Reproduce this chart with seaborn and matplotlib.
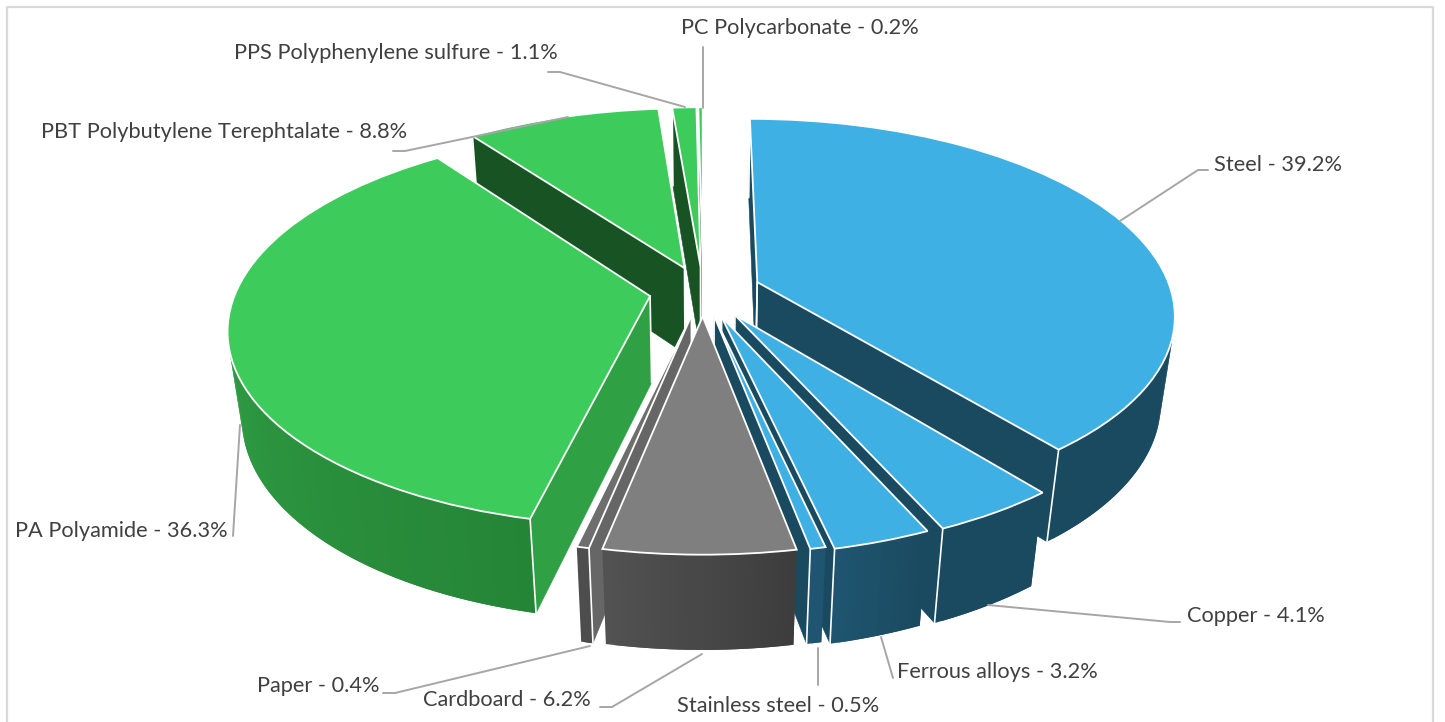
import numpy as np
import matplotlib
matplotlib.use('Agg')
import matplotlib.pyplot as plt
import seaborn as sns
from matplotlib.colors import to_rgb
from matplotlib.transforms import Transform

# data, clockwise from the top
materials = ['Steel', 'Copper', 'Ferrous alloys', 'Stainless steel', 'Cardboard', 'Paper',
             'PA Polyamide', 'PBT Polybutylene Terephtalate', 'PPS Polyphenylene sulfure',
             'PC Polycarbonate']
shares = [39.2, 4.1, 3.2, 0.5, 6.2, 0.4, 36.3, 8.8, 1.1, 0.2]

top_colors = ['#3FB0E4'] * 4 + ['#7F7F7F', '#6E6E6E'] + ['#3DCC5B'] * 4
face_colors = ['#1A4A60'] * 4 + ['#666666', '#666666', '#30A045'] + ['#185323'] * 3
arc_start = ['#1A4A60', '#1A4A60', '#1F5570', '#1F5570', '#525252', '#4D4D4D', '#38B04F', '#185323', '#185323', '#185323']
arc_end = ['#1A4A60', '#1A4A60', '#1A4A60', '#1F5570', '#3D3D3D', '#4D4D4D', '#258537', '#185323', '#185323', '#185323']
explode = [0.14, 0.145, 0.14, 0.13, 0.13, 0.13, 0.13, 0.13, 0.13, 0.13]

label_pos = [(1214, 165), (1187, 616), (897, 672), (677, 706), (423, 700), (257, 686),
             (15, 531), (41, 132), (234, 53), (681, 28)]
leaders = [[(1120, 221), (1198, 170), (1208, 170)],
           [(988, 605), (1170, 622), (1180, 622)],
           [(881, 637), (893, 678)],
           [(818, 648), (818, 685)],
           [(702, 654), (612, 707), (600, 707)],
           [(590, 646), (395, 693), (383, 693)],
           [(240, 425), (233, 536)],
           [(568, 117), (405, 151), (393, 151)],
           [(685, 107), (560, 72), (548, 72)],
           [(703, 108), (703, 47)]]

# view of the tilted disc
X0, Y0, R = 703, 291, 414
PERSP, TILT, DROP, SHRINK = 0.158, 0.463, 0.215, 0.03


def project(x, y, z=0.0):
    w = 1 + PERSP * y - SHRINK * z
    return X0 + R * x / w, Y0 - R * (TILT * y + DROP * z) / w


class TopView(Transform):
    input_dims = output_dims = 2

    def transform_non_affine(self, values):
        values = np.asarray(values)
        return np.column_stack(project(values[:, 0], values[:, 1]))


sns.set_theme(style='white')
plt.rcParams['font.family'] = ['Lato', 'DejaVu Sans']

fig, ax = plt.subplots(figsize=(14.45, 7.22), dpi=100)
fig.subplots_adjust(0, 0, 1, 1)

wedges, _ = ax.pie(shares, startangle=90, counterclock=False, explode=explode, colors=top_colors,
                   wedgeprops=dict(edgecolor='white', linewidth=1.3))
ax.set_aspect('auto')
ax.set_xlim(0, 1445)
ax.set_ylim(722, 0)
ax.axis('off')


def quad(a, b):
    (x1, y1), (x2, y2) = a, b
    pts = np.array([project(x1, y1), project(x2, y2), project(x2, y2, -1), project(x1, y1, -1)])
    x, y = pts[:, 0], pts[:, 1]
    area = 0.5 * np.sum(x * np.roll(y, -1) - np.roll(x, -1) * y)
    return pts, area > 0


# back to front: the slices furthest round from the bottom of the disc go first
def from_front(wd):
    mid = (wd.theta1 + wd.theta2) / 2
    return abs((mid + 90 + 180) % 360 - 180)


order = sorted(range(len(wedges)), key=lambda i: -from_front(wedges[i]))
zo = 10
for i in order:
    wd = wedges[i]
    cx, cy = wd.center
    tip = (cx, cy)
    angles = np.radians(np.linspace(wd.theta1, wd.theta2, max(4, int(wd.theta2 - wd.theta1) + 2)))
    rim = [(cx + wd.r * np.cos(a), cy + wd.r * np.sin(a)) for a in angles]
    for a, b in [(tip, rim[0]), (rim[-1], tip)]:
        pts, seen = quad(a, b)
        if seen:
            ax.fill(pts[:, 0], pts[:, 1], color=face_colors[i], lw=0.4, zorder=zo)
            ax.plot(pts[[1, 2], 0], pts[[1, 2], 1], color='white', lw=1.2, zorder=zo + 2)
            ax.plot(pts[[0, 3], 0], pts[[0, 3], 1], color='white', lw=1.2, zorder=zo + 2)
    start, end = np.array(to_rgb(arc_start[i])), np.array(to_rgb(arc_end[i]))
    for k in range(len(rim) - 1):
        # each strip runs under the next one so no seams show
        pts, seen = quad(rim[k], rim[min(k + 2, len(rim) - 1)])
        if seen:
            col = start + (end - start) * k / max(1, len(rim) - 2)
            ax.fill(pts[:, 0], pts[:, 1], color=col, lw=0, zorder=zo + 1)
    wd.set_transform(TopView() + ax.transData)
    wd.set_zorder(zo + 3)
    zo += 5

for name, val, (lx, ly), line in zip(materials, shares, label_pos, leaders):
    ax.text(lx, ly, f'{name} - {val}%', color='#404040', fontsize=15.7, ha='left', va='center', zorder=200)
    ax.plot(*zip(*line), color='#A6A6A6', lw=1.4, zorder=150)

# chart frame, the bottom edge is cut off
ax.plot([7, 7, 1433, 1433], [722, 7, 7, 722], color='#D9D9D9', lw=1.6, zorder=1)

fig.savefig('out.png', dpi=100)
